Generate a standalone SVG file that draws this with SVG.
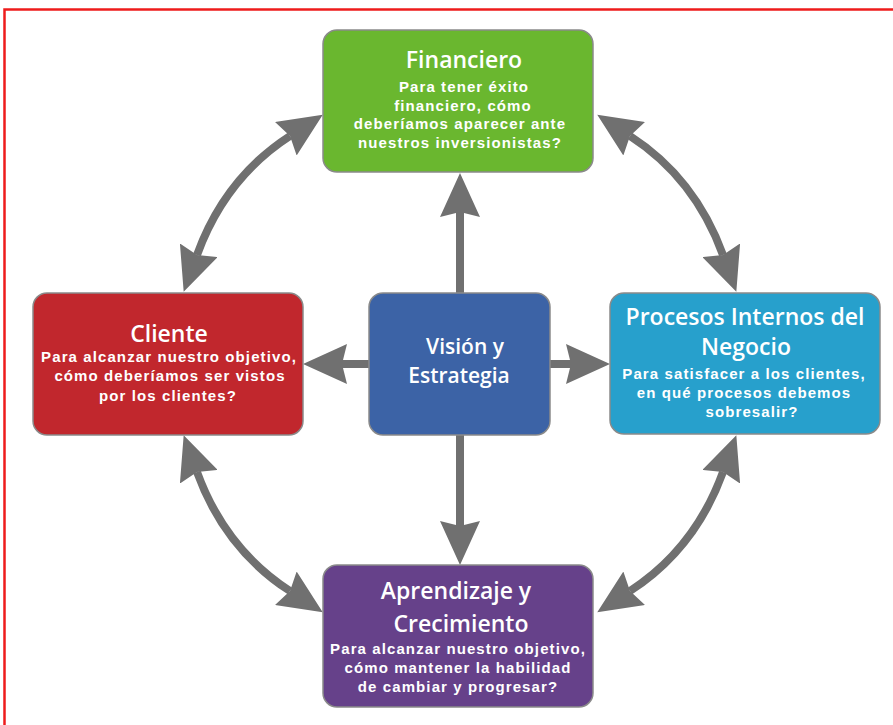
<svg xmlns="http://www.w3.org/2000/svg" width="893" height="725" viewBox="0 0 893 725">
<defs>
<marker id="ah" viewBox="0 0 44 40" refX="5" refY="20" markerWidth="44" markerHeight="40" markerUnits="userSpaceOnUse" orient="auto-start-reverse">
<path d="M0,0 L44,20 L0,40 L5,20 Z" fill="#707070"/>
</marker>
</defs>
<style>
.box{stroke:#8a8a8a;stroke-width:1.5}
.t{font-family:"Open Sans","Liberation Sans",sans-serif;font-weight:600;font-size:23px;fill:#fff;text-anchor:middle}
.b{font-family:"Liberation Sans",Arial,sans-serif;font-weight:700;font-size:15px;letter-spacing:1.1px;fill:#fff;text-anchor:middle}
.c{fill:none;stroke:#707070;stroke-width:8}
</style>
<rect width="893" height="725" fill="#fff"/>
<rect x="4.5" y="9.5" width="910" height="740" fill="none" stroke="#ee1c1c" stroke-width="2.5"/>
<g id="connectors">
<path class="c" d="M460,293 L460,212" marker-end="url(#ah)"/>
<path class="c" d="M460,435 L460,526" marker-end="url(#ah)"/>
<path class="c" d="M369,364 L342,364" marker-end="url(#ah)"/>
<path class="c" d="M550,364 L571,364" marker-end="url(#ah)"/>
<path class="c" d="M290,136 Q225,178 197,255" marker-start="url(#ah)" marker-end="url(#ah)"/>
<path class="c" d="M630,136 Q695,178 723,255" marker-start="url(#ah)" marker-end="url(#ah)"/>
<path class="c" d="M290,591 Q225,549 197,472" marker-start="url(#ah)" marker-end="url(#ah)"/>
<path class="c" d="M630,591 Q695,549 723,472" marker-start="url(#ah)" marker-end="url(#ah)"/>
</g>
<g id="financiero">
<rect class="box" x="323" y="30" width="270" height="142" rx="14" fill="#6ab72f"/>
<text class="t" x="464" y="68">Financiero</text>
<text class="b" x="464" y="92">Para tener éxito</text>
<text class="b" x="463" y="110.5">financiero, cómo</text>
<text class="b" x="460" y="129">deberíamos aparecer ante</text>
<text class="b" x="460" y="148">nuestros inversionistas?</text>
</g>
<g id="cliente">
<rect class="box" x="33" y="293" width="270" height="142" rx="14" fill="#c1272d"/>
<text class="t" x="169" y="341.5">Cliente</text>
<text class="b" x="169" y="361.5">Para alcanzar nuestro objetivo,</text>
<text class="b" x="170" y="381">cómo deberíamos ser vistos</text>
<text class="b" x="168" y="400.5">por los clientes?</text>
</g>
<g id="procesos">
<rect class="box" x="610" y="293" width="270" height="141" rx="14" fill="#27a0cc"/>
<text class="t" x="745" y="325">Procesos Internos del</text>
<text class="t" x="746" y="355">Negocio</text>
<text class="b" x="744" y="379">Para satisfacer a los clientes,</text>
<text class="b" x="744" y="398">en qué procesos debemos</text>
<text class="b" x="752" y="417">sobresalir?</text>
</g>
<g id="vision">
<rect class="box" x="369" y="293" width="181" height="142" rx="14" fill="#3c63a6"/>
<text class="t" x="465" y="353.5" style="font-size:21px">Visión y</text>
<text class="t" x="459" y="382.5" style="font-size:21px">Estrategia</text>
</g>
<g id="aprendizaje">
<rect class="box" x="323" y="565" width="270" height="142" rx="14" fill="#66418a"/>
<text class="t" x="456" y="599">Aprendizaje y</text>
<text class="t" x="461" y="631.5">Crecimiento</text>
<text class="b" x="458" y="654">Para alcanzar nuestro objetivo,</text>
<text class="b" x="458" y="673">cómo mantener la habilidad</text>
<text class="b" x="458" y="692">de cambiar y progresar?</text>
</g>
</svg>
